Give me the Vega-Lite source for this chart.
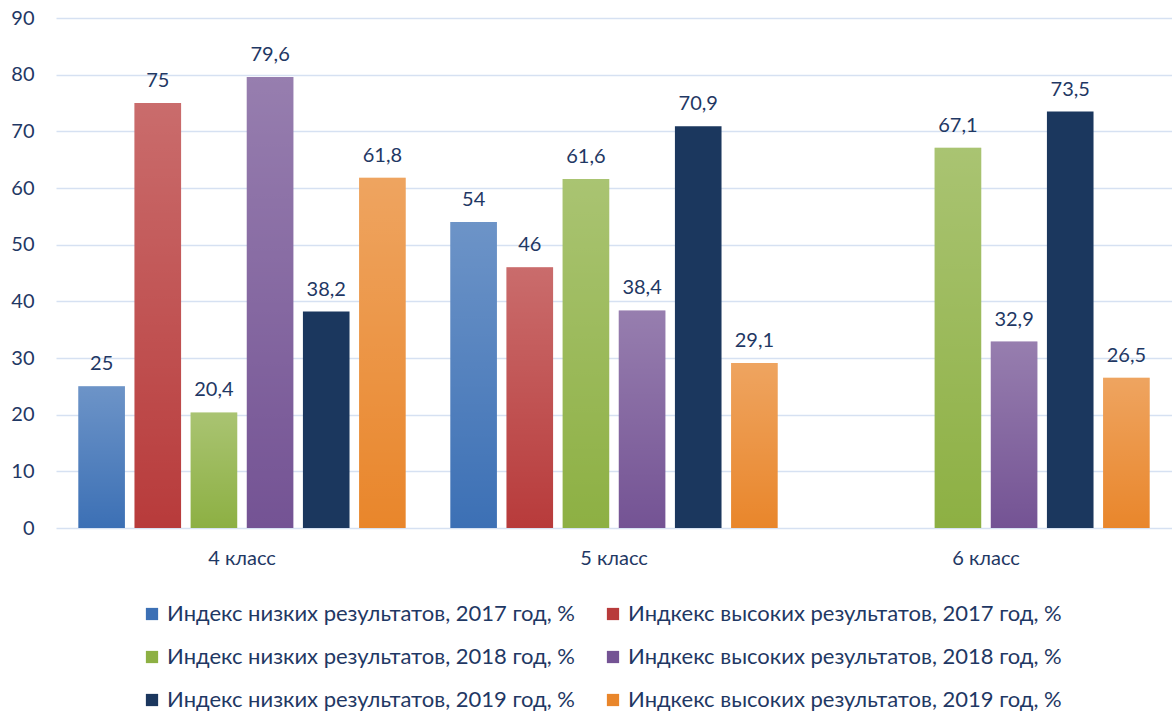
{
  "$schema": "https://vega.github.io/schema/vega-lite/v6.json",
  "width": 1116,
  "height": 510,
  "autosize": {"type": "none"},
  "padding": {"left": 56, "top": 18, "right": 0, "bottom": 187},
  "config": {
    "font": "Lato",
    "view": {"stroke": null},
    "locale": {"number": {"decimal": ",", "thousands": " ", "grouping": [3], "currency": ["", ""]}}
  },
  "data": {
    "values": [
      {"klass": "4 класс", "series": "Индекс низких результатов, 2017 год, %", "value": 25},
      {"klass": "4 класс", "series": "Индкекс высоких результатов, 2017 год, %", "value": 75},
      {"klass": "4 класс", "series": "Индекс низких результатов, 2018 год, %", "value": 20.4},
      {"klass": "4 класс", "series": "Индкекс высоких результатов, 2018 год, %", "value": 79.6},
      {"klass": "4 класс", "series": "Индекс низких результатов, 2019 год, %", "value": 38.2},
      {"klass": "4 класс", "series": "Индкекс высоких результатов, 2019 год, %", "value": 61.8},
      {"klass": "5 класс", "series": "Индекс низких результатов, 2017 год, %", "value": 54},
      {"klass": "5 класс", "series": "Индкекс высоких результатов, 2017 год, %", "value": 46},
      {"klass": "5 класс", "series": "Индекс низких результатов, 2018 год, %", "value": 61.6},
      {"klass": "5 класс", "series": "Индкекс высоких результатов, 2018 год, %", "value": 38.4},
      {"klass": "5 класс", "series": "Индекс низких результатов, 2019 год, %", "value": 70.9},
      {"klass": "5 класс", "series": "Индкекс высоких результатов, 2019 год, %", "value": 29.1},
      {"klass": "6 класс", "series": "Индекс низких результатов, 2018 год, %", "value": 67.1},
      {"klass": "6 класс", "series": "Индкекс высоких результатов, 2018 год, %", "value": 32.9},
      {"klass": "6 класс", "series": "Индекс низких результатов, 2019 год, %", "value": 73.5},
      {"klass": "6 класс", "series": "Индкекс высоких результатов, 2019 год, %", "value": 26.5}
    ]
  },
  "encoding": {
    "x": {
      "field": "klass", "type": "nominal",
      "scale": {"paddingInner": 0.12, "paddingOuter": 0.06},
      "axis": {"title": null, "labelAngle": 0, "domain": false, "ticks": false, "labelPadding": 20, "labelFontSize": 20, "labelColor": "#1F3864"}
    },
    "xOffset": {
      "field": "series", "type": "nominal",
      "scale": {
        "domain": [
          "Индекс низких результатов, 2017 год, %",
          "Индкекс высоких результатов, 2017 год, %",
          "Индекс низких результатов, 2018 год, %",
          "Индкекс высоких результатов, 2018 год, %",
          "Индекс низких результатов, 2019 год, %",
          "Индкекс высоких результатов, 2019 год, %"
        ],
        "paddingInner": 0.17, "paddingOuter": 0
      }
    },
    "y": {
      "field": "value", "type": "quantitative",
      "scale": {"domain": [0, 90], "nice": false},
      "axis": {"title": null, "values": [0, 10, 20, 30, 40, 50, 60, 70, 80, 90], "grid": true, "gridColor": "#D6E1F2", "gridWidth": 1.5, "domain": false, "ticks": false, "labelPadding": 22, "labelFontSize": 20, "labelColor": "#1F3864"}
    }
  },
  "layer": [
    {
      "mark": {"type": "bar"},
      "encoding": {
        "color": {
          "field": "series", "type": "nominal",
          "scale": {
            "domain": [
              "Индекс низких результатов, 2017 год, %",
              "Индкекс высоких результатов, 2017 год, %",
              "Индекс низких результатов, 2018 год, %",
              "Индкекс высоких результатов, 2018 год, %",
              "Индекс низких результатов, 2019 год, %",
              "Индкекс высоких результатов, 2019 год, %"
            ],
            "range": ["#3C70B5", "#B83B3B", "#8DB043", "#745394", "#1B375E", "#E9862B"]
          },
          "legend": {
            "title": null, "orient": "none", "legendX": 85, "legendY": 585,
            "direction": "horizontal", "columns": 2, "symbolType": "square", "symbolSize": 150,
            "symbolStrokeWidth": 0, "labelFontSize": 22, "labelColor": "#1F3864", "labelLimit": 600,
            "labelOffset": 4, "columnPadding": 27, "rowPadding": 21
          }
        }
      }
    },
    {
      "transform": [{"filter": "datum.series !== 'Индекс низких результатов, 2019 год, %'"}],
      "mark": {
        "type": "bar",
        "color": {"gradient": "linear", "x1": 0, "y1": 0, "x2": 0, "y2": 1,
          "stops": [{"offset": 0, "color": "rgba(255,255,255,0.25)"}, {"offset": 1, "color": "rgba(255,255,255,0)"}]}
      }
    },
    {
      "mark": {"type": "text", "baseline": "bottom", "dy": -12, "fontSize": 20, "color": "#1F3864"},
      "encoding": {"text": {"field": "value", "type": "quantitative", "format": ".3~r"}}
    }
  ]
}
